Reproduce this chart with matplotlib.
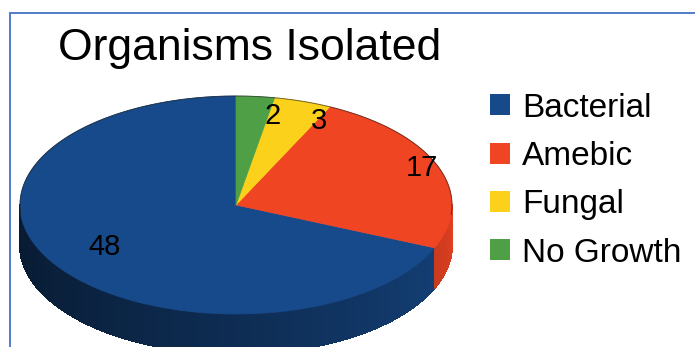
import numpy as np
import matplotlib.pyplot as plt
from matplotlib.collections import PolyCollection
from matplotlib.patches import Polygon, Patch

plt.rcParams['font.family'] = ['Liberation Sans', 'DejaVu Sans']

# data
categories = ['Bacterial', 'Amebic', 'Fungal', 'No Growth']
counts = [48, 17, 3, 2]

# style
top_colors = ['#174a8a', '#ef4523', '#fcd11b', '#4e9f45']
label_r = [0.72, 0.925, 0.86, 0.83]          # label distance (fraction of radius)
label_nudge = [-1, 1, -8.5, -6.5]            # label angle shift, degrees

CX, CY = 236, 205      # pie centre (pixels, y down)
RX, RY = 216, 109      # ellipse radii
DEPTH = 40             # thickness of the 3d side

def ell(theta):
    t = np.radians(theta)
    return CX + RX * np.cos(t), CY - RY * np.sin(t)

fig = plt.figure(figsize=(6.95, 3.47), dpi=100)
ax = fig.add_axes([0, 0, 1, 1])
ax.set_xlim(0, 695)
ax.set_ylim(347, 0)
ax.axis('off')

# slices counterclockwise from 12 o'clock
edges = 90 + 360 * np.concatenate([[0], np.cumsum(counts)]) / sum(counts)

# side wall: only the front half (180..360 deg) is visible
quads, qcols = [], []
for i in range(len(counts)):
    a0, a1 = edges[i], edges[i + 1]
    lo, hi = max(a0, 180), min(a1, 360)
    if hi <= lo:
        continue
    ts = np.linspace(lo, hi, int((hi - lo) / 0.5) + 2)
    base = np.array(plt.matplotlib.colors.to_rgb(top_colors[i]))
    for t0, t1 in zip(ts[:-1], ts[1:]):
        x0, y0 = ell(t0)
        x1, y1 = ell(t1)
        quads.append([(x0, y0), (x1, y1), (x1, y1 + DEPTH), (x0, y0 + DEPTH)])
        k = 0.35 + 0.58 * ((0.5 * (t0 + t1) - 180) / 180) ** 1.2
        qcols.append(np.clip(base * k, 0, 1))
ax.add_collection(PolyCollection(quads, facecolors=qcols, edgecolors=qcols,
                                 linewidths=0.8, antialiased=False))

# top surface
for i in range(len(counts)):
    ts = np.linspace(edges[i], edges[i + 1], 200)
    xs, ys = ell(ts)
    pts = np.column_stack([np.r_[CX, xs], np.r_[CY, ys]])
    ax.add_patch(Polygon(pts, closed=True, facecolor=top_colors[i], edgecolor=top_colors[i], lw=0.5))

# thin dark rim on the back edge
ts = np.linspace(-5, 185, 300)
xs, ys = ell(ts)
ax.plot(xs, ys, color='#1a1a1a', lw=0.7, alpha=0.6)

# value labels
for i, v in enumerate(counts):
    mid = 0.5 * (edges[i] + edges[i + 1]) + label_nudge[i]
    t = np.radians(mid)
    x = CX + RX * label_r[i] * np.cos(t)
    y = CY - RY * label_r[i] * np.sin(t)
    ax.text(x, y, str(v), fontsize=21, ha='center', va='center', color='black')

# title
ax.text(58, 60, 'Organisms Isolated', fontsize=32, ha='left', va='baseline')

# frame line (top and left only visible)
ax.plot([10, 10, 695], [347, 13, 13], color='#4472c4', lw=1.3, solid_joinstyle='miter')

# legend
handles = [Patch(facecolor=c, edgecolor='none') for c in top_colors]
ax.legend(handles, categories, loc='upper left', bbox_to_anchor=(0.705, 0.733),
          frameon=False, fontsize=24, handlelength=0.6, handleheight=0.6,
          handletextpad=0.36, labelspacing=0.52, borderpad=0, borderaxespad=0)

fig.savefig('out.png', dpi=100)
